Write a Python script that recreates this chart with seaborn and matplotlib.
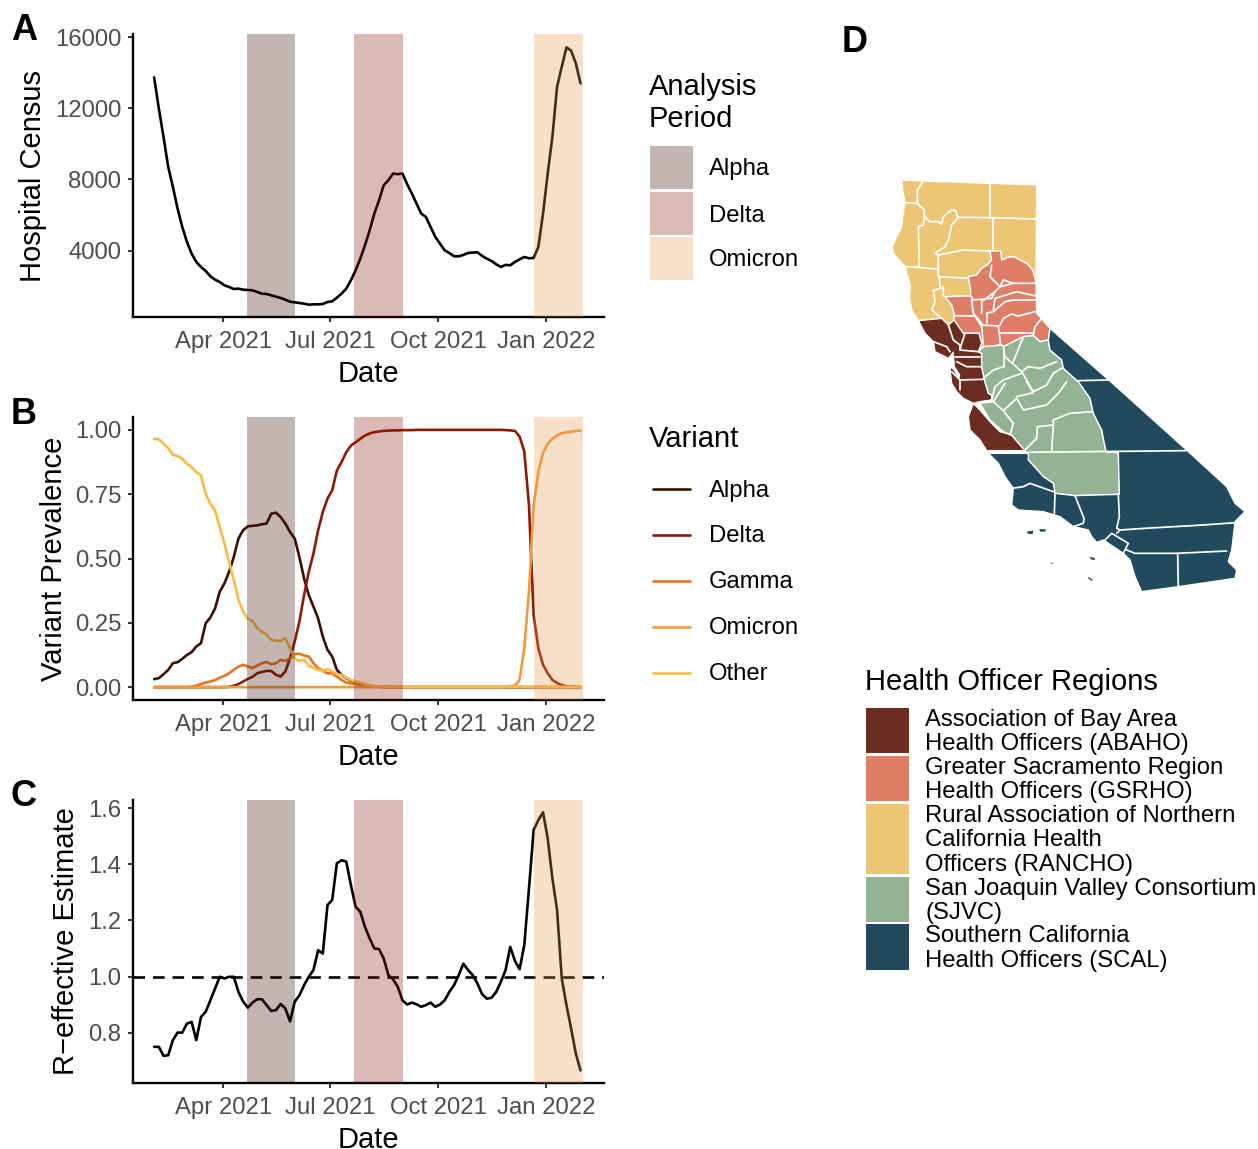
#!/usr/bin/env python3
"""California hospital census, variant prevalence, R-effective and region map."""
import matplotlib
matplotlib.use("Agg")
import matplotlib.pyplot as plt
from matplotlib.lines import Line2D
from matplotlib.patches import Rectangle
import pandas as pd
import seaborn as sns

# values are spaced about four days apart, first to last date below
first_date = "2021-02-01"
last_date = "2022-01-30"

census = [13731, 11988, 10394, 8706, 7581, 6362, 5331, 4488, 3831, 3362, 3081, 2856, 2556, 2369,
          2238, 2050, 1956, 1844, 1862, 1806, 1788, 1769, 1675, 1581, 1562, 1488, 1412, 1338,
          1244, 1131, 1094, 1056, 1019, 962, 981, 981, 1000, 1112, 1150, 1356, 1581, 1862, 2331,
          2894, 3550, 4300, 5144, 6081, 6831, 7675, 7956, 8331, 8294, 8331, 7731, 7206, 6644,
          6081, 5894, 5331, 4769, 4394, 4019, 3869, 3681, 3681, 3756, 3869, 3888, 3906, 3700,
          3550, 3419, 3231, 3081, 3194, 3175, 3362, 3512, 3644, 3569, 3588, 4206, 6081, 8331,
          10394, 13206, 14331, 15419, 15231, 14519, 13394]

alpha_prev = [.031, .035, .050, .067, .093, .097, .110, .125, .136, .158, .171, .248, .271, .306,
              .371, .403, .448, .506, .578, .610, .625, .627, .629, .633, .636, .674, .678, .661,
              .636, .603, .578, .506, .422, .358, .313, .267, .196, .145, .119, .067, .048, .035,
              .026, .019, .014, .009, .005, .003, .002, .001, .001] + [0] * 41
delta_prev = [0] * 16 + [.001, .005, .012, .022, .032, .040, .054, .059, .063, .063, .048, .041,
                         .061, .112, .177, .255, .358, .448, .519, .610, .681, .733, .765, .842,
                         .875, .913, .939, .952, .965, .978, .986, .991, .994, .996, .997, .998,
                         .998, .999, .999, .999, 1, 1, 1, 1, 1, 1, 1, 1, 1, 1, 1, 1, 1, 1, 1, 1,
                         1, 1, 1, .999, .998, .996, .974, .916, .707, .280, .151, .087, .054,
                         .028, .016, .008, .003, .002, .001, .001]
gamma_prev = [0, 0, 0, 0, 0, 0, 0, 0, .002, .006, .012, .018, .022, .027, .037, .044, .054, .067,
              .080, .087, .080, .074, .084, .093, .098, .089, .093, .106, .102, .112, .128, .130,
              .123, .119, .093, .074, .063, .054, .054, .041, .028, .018, .014, .012, .009, .006,
              .004, .002, .001] + [0] * 43
omicron_prev = [0] * 76 + [.004, .006, .028, .151, .371, .707, .836, .911, .946, .965, .978, .987,
                           .991, .993, .996, .997]
other_prev = [.965, .963, .946, .929, .903, .898, .888, .868, .855, .836, .823, .752, .713, .687,
              .623, .558, .487, .416, .339, .293, .265, .258, .229, .216, .203, .183, .180, .180,
              .190, .151, .112, .102, .106, .084, .074, .067, .063, .070, .061, .050, .048, .037,
              .028, .022, .018, .012, .006, .004, .003, .002, .002] + [.001] * 41

r_effective = [.749, .749, .717, .719, .773, .800, .800, .832, .838, .773, .856, .874, .915, .957,
               .999, .993, .999, .999, .945, .910, .889, .907, .919, .919, .898, .877, .880, .902,
               .886, .840, .910, .933, .969, .999, 1.023, 1.094, 1.082, 1.255, 1.273, 1.404, 1.415,
               1.410, 1.326, 1.249, 1.231, 1.177, 1.136, 1.100, 1.098, 1.064, 1.005, .990, .963,
               .915, .900, .907, .901, .892, .898, .907, .892, .900, .915, .945, .969, 1.005, 1.046,
               1.023, 1.005, .975, .937, .921, .924, .945, .981, 1.023, 1.106, 1.056, 1.026, 1.112,
               1.314, 1.523, 1.558, 1.586, 1.493, 1.350, 1.237, .993, .898, .814, .725, .665]

variant_names = ["Alpha", "Delta", "Gamma", "Omicron", "Other"]
variant_colors = ["#3a0f02", "#8a1b08", "#e8731e", "#f09a3e", "#f7bc45"]
period_names = ["Alpha", "Delta", "Omicron"]
period_colors = ["#3a0f02", "#8a1908", "#eb9848"]
period_keys = ["#c4b7b3", "#dcbab5", "#f9e0c8"]
period_starts = ["2021-04-21", "2021-07-21", "2021-12-21"]
period_ends = ["2021-06-01", "2021-09-01", "2022-02-01"]
date_ticks = ["2021-04-01", "2021-07-01", "2021-10-01", "2022-01-01"]
date_labels = ["Apr 2021", "Jul 2021", "Oct 2021", "Jan 2022"]

region_labels = ["Association of Bay Area\nHealth Officers (ABAHO)",
                 "Greater Sacramento Region\nHealth Officers (GSRHO)",
                 "Rural Association of Northern\nCalifornia Health\nOfficers (RANCHO)",
                 "San Joaquin Valley Consortium\n(SJVC)",
                 "Southern California\nHealth Officers (SCAL)"]
region_colors = ["#6b2d1f", "#df7d66", "#edc675", "#94b393", "#214a5e"]

# map outlines, in map units
rancho_outline = [(66, 30), (130, 33), (330, 40), (470, 44), (468, 335), (458, 300), (440, 280),
                  (400, 260), (385, 262), (365, 270), (362, 243), (330, 243), (335, 270), (322, 285),
                  (305, 295), (290, 315), (265, 320), (272, 360), (272, 378), (195, 380), (215, 405),
                  (222, 430), (222, 450), (205, 465), (185, 445), (115, 452), (95, 420), (88, 380),
                  (92, 350), (75, 290), (40, 250), (37, 228), (65, 170), (68, 140), (75, 100), (68, 60)]
gsrho_outline = [(362, 243), (330, 243), (335, 270), (322, 285), (305, 295), (290, 315), (265, 320),
                 (272, 360), (272, 378), (195, 380), (215, 405), (222, 430), (222, 450), (250, 490),
                 (297, 490), (305, 520), (295, 545), (310, 530), (365, 525), (370, 530), (430, 500),
                 (460, 497), (480, 515), (505, 510), (510, 475), (470, 430), (468, 335), (458, 300),
                 (440, 280), (400, 260), (385, 262), (365, 270)]
abaho_outline = [(115, 452), (185, 445), (205, 465), (222, 450), (250, 490), (297, 490), (305, 520),
                 (295, 545), (305, 550), (305, 590), (315, 635), (325, 670), (335, 675), (335, 690),
                 (300, 695), (280, 700), (250, 685), (230, 665), (215, 640), (210, 600), (215, 580),
                 (205, 565), (165, 545), (160, 515), (135, 490)]
monterey_outline = [(280, 700), (265, 740), (270, 780), (300, 810), (320, 842), (435, 842), (395, 795),
                    (360, 785), (330, 755), (300, 720)]
sjvc_outline = [(305, 550), (295, 545), (310, 530), (365, 525), (370, 530), (430, 500), (460, 497),
                (480, 515), (505, 510), (510, 540), (545, 570), (550, 595), (595, 635), (630, 685),
                (640, 730), (665, 780), (678, 845), (715, 848), (718, 973), (585, 977), (525, 970),
                (520, 940), (490, 920), (445, 870), (435, 842), (395, 795), (370, 785), (330, 750),
                (300, 700), (335, 690), (335, 675), (325, 670), (315, 635), (305, 590)]
scal_outline = [(510, 475), (690, 633), (920, 840), (1040, 950), (1065, 1000), (1095, 1025),
                (1065, 1055), (1060, 1100), (1055, 1140), (1045, 1175), (1070, 1200), (1065, 1225),
                (895, 1250), (785, 1265), (765, 1220), (750, 1170), (730, 1150), (670, 1110),
                (650, 1117), (635, 1100), (625, 1080), (580, 1070), (540, 1040), (490, 1025),
                (415, 1020), (395, 1005), (400, 955), (375, 920), (355, 880), (325, 850), (445, 850),
                (445, 870), (490, 920), (520, 940), (525, 970), (585, 977), (718, 973), (715, 848),
                (678, 845), (665, 780), (640, 730), (630, 685), (595, 635), (550, 595), (545, 570),
                (510, 540), (505, 510)]
islands = [[(440, 1085), (460, 1082), (458, 1092), (445, 1092)],
           [(478, 1077), (498, 1078), (495, 1085), (480, 1085)],
           [(630, 1160), (645, 1165), (645, 1170), (632, 1168)],
           [(625, 1220), (638, 1230), (635, 1233), (625, 1225)],
           [(512, 1177), (520, 1180), (518, 1182), (512, 1180)]]
bay_outline = [(205, 565), (220, 545), (224, 590), (240, 615), (236, 628), (222, 600), (210, 590)]

county_lines = [
    [(130, 33), (112, 60), (112, 100), (75, 98)],
    [(112, 100), (133, 120), (133, 145), (130, 165), (115, 170), (118, 292), (75, 290)],
    [(118, 292), (175, 298)],
    [(133, 140), (150, 155), (175, 155), (185, 163), (190, 140), (215, 120), (228, 122), (232, 145),
     (215, 165), (205, 210), (195, 230), (165, 250), (175, 255)],
    [(232, 142), (330, 143), (470, 147)],
    [(330, 40), (330, 143)],
    [(340, 147), (340, 243)],
    [(175, 255), (250, 240), (330, 243)],
    [(175, 255), (175, 320), (265, 325)],
    [(178, 320), (180, 355), (190, 350), (190, 378)],
    [(180, 355), (160, 362), (165, 395), (155, 420), (185, 445)],
    [(222, 437), (285, 438), (305, 470), (310, 525)],
    [(305, 465), (355, 468), (362, 525)],
    [(360, 490), (400, 490), (460, 490)],
    [(460, 495), (465, 470), (483, 448)],
    [(360, 465), (370, 445), (395, 432), (415, 438), (465, 425)],
    [(320, 430), (340, 425), (375, 395), (400, 390), (468, 390)],
    [(340, 420), (345, 385), (395, 370), (410, 365), (468, 378)],
    [(305, 430), (305, 395), (345, 365), (360, 350), (400, 340), (468, 340)],
    [(275, 390), (280, 430), (305, 460)],
    [(272, 378), (280, 390), (335, 385), (345, 365)],
    [(360, 350), (330, 320), (335, 285)],
    [(320, 430), (320, 460)],
    [(360, 350), (370, 330), (400, 340)],
    [(205, 465), (220, 510), (240, 525), (240, 540)],
    [(160, 515), (200, 530), (210, 545)],
    [(255, 490), (245, 520), (240, 540), (295, 545)],
    [(225, 560), (300, 560)],
    [(230, 575), (260, 590), (305, 590)],
    [(215, 605), (240, 630), (310, 628)],
    [(240, 630), (240, 660)],
    [(372, 550), (372, 590), (340, 600), (310, 625)],
    [(370, 530), (375, 560), (425, 605), (460, 665), (500, 645), (520, 610), (545, 595)],
    [(430, 500), (400, 575)],
    [(425, 605), (445, 590), (480, 595), (530, 575)],
    [(425, 610), (370, 630), (345, 650), (335, 690)],
    [(290, 700), (340, 695), (370, 722), (400, 760), (390, 795)],
    [(370, 722), (410, 685), (430, 720), (500, 705), (535, 670), (560, 635)],
    [(410, 680), (460, 668), (440, 635)],
    [(340, 695), (375, 640)],
    [(435, 840), (470, 805), (472, 770), (520, 765), (515, 845)],
    [(520, 765), (520, 750), (570, 730), (635, 725)],
    [(325, 848), (920, 842)],
    [(595, 632), (685, 630)],
    [(715, 975), (718, 1040), (710, 1075), (720, 1080), (795, 1075), (970, 1065), (1065, 1058)],
    [(740, 1140), (765, 1150), (890, 1150), (1040, 1143)],
    [(893, 1150), (895, 1250)],
    [(675, 1110), (695, 1090), (745, 1120), (730, 1150)],
    [(710, 1090), (720, 1080)],
    [(585, 977), (612, 1045), (610, 1060), (580, 1070)],
    [(525, 970), (523, 1030)],
    [(395, 955), (430, 950), (450, 940), (520, 965)],
]

FIG_W = 1258
FIG_H = 1149
TICK_GREY = "#4d4d4d"
LINE_W = 1.9


def px_x(x):
    return x / FIG_W


def px_y(y):
    return 1 - y / FIG_H


def add_axes_px(fig, left, top, right, bottom):
    return fig.add_axes([px_x(left), px_y(bottom), (right - left) / FIG_W, (bottom - top) / FIG_H])


def style_time_axis(ax, ylabel, ylabel_x):
    # shading goes over the lines, as in the original
    for start, end, color in zip(period_starts, period_ends, period_colors):
        ax.axvspan(pd.Timestamp(start), pd.Timestamp(end), color=color, alpha=0.3, lw=0, zorder=3)
    ax.set_xlim(pd.Timestamp("2021-01-14"), pd.Timestamp("2022-02-19"))
    ax.set_xticks([pd.Timestamp(d) for d in date_ticks])
    ax.set_xticklabels(date_labels)
    ax.tick_params(labelsize=17.2, labelcolor=TICK_GREY, color="#333333", length=3.5, width=1.4)
    ax.tick_params(axis="x", pad=6.5)
    ax.tick_params(axis="y", pad=5)
    ax.set_xlabel("Date", fontsize=21)
    ax.xaxis.set_label_coords(0.5, -0.152)
    ax.set_ylabel(ylabel, fontsize=21)
    ax.yaxis.set_label_coords(ylabel_x, 0.5)
    sns.despine(ax=ax)
    for side in ["left", "bottom"]:
        ax.spines[side].set_linewidth(1.7)
        ax.spines[side].set_color("black")


def draw_time_panels(fig, dates):
    ax_a = add_axes_px(fig, 133, 34, 604, 317)
    sns.lineplot(x=dates, y=census, color="black", lw=LINE_W, ax=ax_a, estimator=None)
    ax_a.set_ylim(270, 16170)
    ax_a.set_yticks([4000, 8000, 12000, 16000])
    style_time_axis(ax_a, "Hospital Census", -0.182)

    ax_b = add_axes_px(fig, 133, 417, 604, 700)
    prevalence = pd.DataFrame({"date": dates, "Alpha": alpha_prev, "Delta": delta_prev,
                               "Gamma": gamma_prev, "Omicron": omicron_prev, "Other": other_prev})
    long_df = prevalence.melt(id_vars="date", var_name="variant", value_name="share")
    sns.lineplot(data=long_df, x="date", y="share", hue="variant", hue_order=variant_names,
                 palette=variant_colors, lw=LINE_W, ax=ax_b, estimator=None, legend=False)
    ax_b.set_ylim(-0.05, 1.05)
    ax_b.set_yticks([0, 0.25, 0.5, 0.75, 1])
    ax_b.set_yticklabels(["0.00", "0.25", "0.50", "0.75", "1.00"])
    style_time_axis(ax_b, "Variant Prevalence", -0.139)

    ax_c = add_axes_px(fig, 133, 800, 604, 1083)
    sns.lineplot(x=dates, y=r_effective, color="black", lw=LINE_W, ax=ax_c, estimator=None)
    ax_c.axhline(1, color="black", lw=LINE_W, dashes=(4.4, 3.0))
    ax_c.set_ylim(0.62, 1.63)
    ax_c.set_yticks([0.8, 1.0, 1.2, 1.4, 1.6])
    style_time_axis(ax_c, "R\u2212effective Estimate", -0.112)


def draw_map(fig):
    ax = add_axes_px(fig, 880, 170, 1250, 610)
    fills = [(rancho_outline, region_colors[2]), (gsrho_outline, region_colors[1]),
             (abaho_outline, region_colors[0]), (monterey_outline, region_colors[0]),
             (sjvc_outline, region_colors[3]), (scal_outline, region_colors[4])]
    for outline, color in fills:
        xs, ys = zip(*outline)
        ax.fill(xs, ys, facecolor=color, edgecolor="white", lw=1.0)
    for island in islands:
        xs, ys = zip(*island)
        ax.fill(xs, ys, facecolor=region_colors[4], edgecolor="none")
    xs, ys = zip(*bay_outline)
    ax.fill(xs, ys, facecolor="white", edgecolor="white", lw=0.5)
    for line in county_lines:
        xs, ys = zip(*line)
        ax.plot(xs, ys, color="white", lw=1.25, solid_joinstyle="round")
    ax.set_xlim(0, 1110)
    ax.set_ylim(1320, 0)
    ax.axis("off")


def key_box(fig, left, top, right, bottom, color):
    fig.add_artist(Rectangle((px_x(left), px_y(bottom)), (right - left) / FIG_W, (bottom - top) / FIG_H,
                             transform=fig.transFigure, facecolor=color, edgecolor="none"))


def draw_legends(fig):
    fig.text(px_x(649), px_y(103), "Analysis\nPeriod", fontsize=21, va="center", linespacing=1.17)
    tops = [146, 192, 237]
    for name, color, top in zip(period_names, period_keys, tops):
        key_box(fig, 650, top, 693, top + 43, color)
        fig.text(px_x(709), px_y(top + 23.5), name, fontsize=17.2, va="center")

    fig.text(px_x(649), px_y(439), "Variant", fontsize=21, va="center")
    rows = [489, 535, 581, 627, 673]
    for name, color, y in zip(variant_names, variant_colors, rows):
        fig.add_artist(Line2D([px_x(653), px_x(690)], [px_y(y), px_y(y)], color=color, lw=LINE_W,
                              transform=fig.transFigure))
        fig.text(px_x(709), px_y(y + 1.5), name, fontsize=17.2, va="center")

    fig.text(px_x(865), px_y(682), "Health Officer Regions", fontsize=21, va="center")
    boxes = [(708, 753), (756, 801), (804, 874), (877, 922), (924, 970)]
    for label, color, (top, bottom) in zip(region_labels, region_colors, boxes):
        key_box(fig, 866, top, 909, bottom, color)
        fig.text(px_x(925), px_y((top + bottom) / 2 + 1.5), label, fontsize=17.2, va="center",
                 linespacing=1.17)


def main():
    sns.set_theme(style="ticks")
    plt.rcParams["font.family"] = ["Liberation Sans", "DejaVu Sans"]
    plt.rcParams["text.color"] = "black"
    plt.rcParams["axes.labelcolor"] = "black"
    fig = plt.figure(figsize=(FIG_W / 100, FIG_H / 100), dpi=100)
    dates = pd.date_range(first_date, last_date, periods=len(census))

    draw_time_panels(fig, dates)
    draw_map(fig)
    draw_legends(fig)

    for tag, x, y in [("A", 24, 31), ("B", 24, 414), ("C", 24, 796), ("D", 855, 42)]:
        fig.text(px_x(x), px_y(y), tag, fontsize=26, fontweight="bold", ha="center", va="center")

    fig.savefig("out.png", dpi=100)
    plt.close(fig)


if __name__ == "__main__":
    main()
